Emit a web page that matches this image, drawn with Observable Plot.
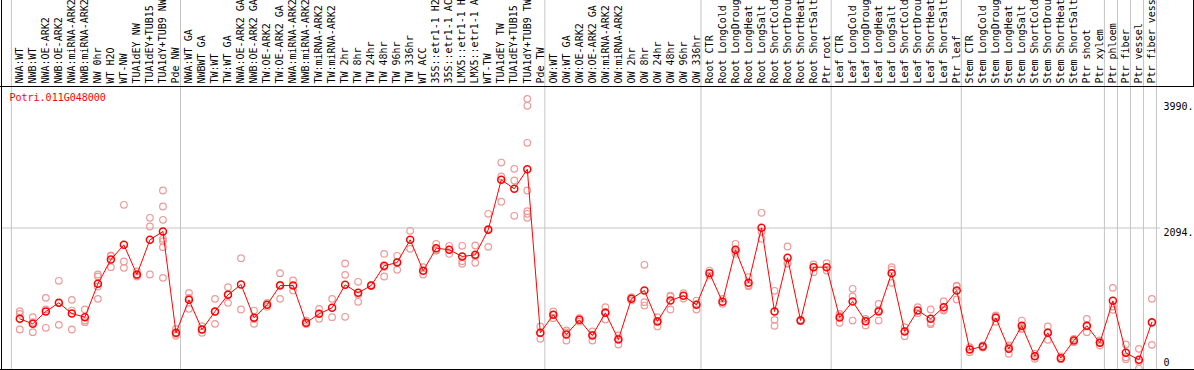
<!DOCTYPE html>
<html><head><meta charset="utf-8">
<script src="https://cdn.jsdelivr.net/npm/d3@7"></script>
<script src="https://cdn.jsdelivr.net/npm/@observablehq/plot@0.6"></script>
<style>html,body{margin:0;padding:0;background:#fff} svg{display:block}</style>
</head><body><div id="chart"></div>
<script>
const geneId = "Potri.011G048000";
const categories = [
 "NWA:WT","NWB:WT","NWA:OE-ARK2","NWB:OE-ARK2","NWA:miRNA-ARK2","NWB:miRNA-ARK2","NW 0hr","WT H2O","WT-NW","TUA1dEY NW",
 "TUA1dEY+TUB15 ","TUA1dY+TUB9 NW","Pde NW","NWA:WT GA","NWBWT GA","TW:WT","TW:WT GA","NWA:OE-ARK2 GA","NWB:OE-ARK2 GA","TW:OE-ARK2",
 "TW:OE-ARK2 GA","NWA:miRNA-ARK2","NWB:miRNA-ARK2","TW:miRNA-ARK2","TW:miRNA-ARK2","TW 2hr","TW 8hr","TW 24hr","TW 48hr","TW 96hr",
 "TW 336hr","WT ACC","35S::etr1-1 H2","35S::etr1-1 AC","LMX5::etr1-1 H","LMX5::etr1-1 A","WT-TW","TUA1dEY TW","TUA1dEY+TUB15 ","TUA1dY+TUB9 TW",
 "Pde TW","OW:WT","OW:WT GA","OW:OE-ARK2","OW:OE-ARK2 GA","OW:miRNA-ARK2","OW:miRNA-ARK2","OW 2hr","OW 8hr","OW 24hr",
 "OW 48hr","OW 96hr","OW 336hr","Root CTR","Root LongCold","Root LongDroug","Root LongHeat","Root LongSalt","Root ShortCold","Root ShortDrou",
 "Root ShortHeat","Root ShortSalt","Ptr root","Leaf CTR","Leaf LongCold","Leaf LongDroug","Leaf LongHeat","Leaf LongSalt","Leaf ShortCold","Leaf ShortDrou",
 "Leaf ShortHeat","Leaf ShortSalt","Ptr leaf","Stem CTR","Stem LongCold","Stem LongDroug","Stem LongHeat","Stem LongSalt","Stem ShortCold","Stem ShortDrou",
 "Stem ShortHeat","Stem ShortSalt","Ptr shoot","Ptr xylem","Ptr phloem","Ptr fiber","Ptr vessel","Ptr fiber vess"
];
const means = [
 750,676,859,987,829,775,1268,1628,1846,1406,
 1920,2043,543,1031,592,859,1105,1258,765,957,
 1243,1243,691,824,913,1253,1135,1243,1535,1584,
 1920,1461,1796,1772,1673,1698,2068,2808,2675,2965,
 543,810,518,735,503,839,444,1046,1170,711,
 1021,1091,957,1426,1002,1772,1283,2097,859,1653,
 725,1515,1515,770,1007,715,859,1426,563,873,
 750,923,1170,296,340,765,306,647,197,543,
 168,429,647,395,1016,247,143,701
];
const replicates = [
 [863,824,592],[775,700,553],[1061,888,617],[1313,987,661],[1031,873,592],[888,725,701],[1406,1377,1229,1046],[1678,1690,1515],[2438,1599,1505],[1451,1377,1390],
 [2246,2117,1406],[2650,2413,2216,1935,1899,1811,1357],[602,528,500],[1135,898,1060],[641,543,592],[1046,676,855],[1219,987,1110],[1648,888],[873,676,746],[987,930],
 [1426,1046,1257],[1318,1170],[725,676,672],[898,750],[1046,775],[1569,1401,780],[1298,1002,1105],[1250,1236],[1712,1377,1516],[1683,1476,1593],
 [2053,1787],[1515,1406],[1861,1762,1765],[1831,1712],[1831,1604,1565],[1836,1580,1678],[2305,1816,2083],[3064,2857,2483],[2971,2798,2275],[4007,3904,3356,2650,2344,2305,2246],
 [637,454,538],[859,760,811],[577,429,548],[760,710],[563,429,517],[923,740,854],[503,370,459],[1070,1022],[1550,997,947],[775,637,721],
 [1095,888,1080],[1130,1050],[1021,888,962],[1465,1390],[1046,972],[1861,1712,1743],[1367,1234,1248],[2320,2039,1935],[1165,735,647],[1821,1565,1573],
 [735,715],[1555,1441],[1574,1465],[824,691,795],[1195,1081,725],[750,652],[972,725,880],[1515,1283,1480],[627,493,570],[923,834],
 [888,691,671],[1012,873,884],[1234,1036,1240],[330,257,301],[355,325],[800,706,789],[355,232,331],[725,600,616],[232,158,201],[637,439,553],
 [193,158,153],[454,404],[750,553,638],[429,355,401],[1209,933,883],[370,182,153],[306,10,113],[1046,365,692]
];
const yTickValues = [0, 2094.75, 3990];
const yTickLabels = ["0", "2094.", "3990."];
const yMax = 4189.5;
const groupEnds = [-1, 12, 40, 52, 62, 72, 83, 84, 85, 86, 87];

const meanRows = categories.map((c, i) => ({i, c, v: means[i]}));
const repRows = replicates.flatMap((r, i) => r.map(v => ({i, v})));

const xDomain = [-1.4066, 87.66];
const chart = Plot.plot({
  width: 1194, height: 370,
  marginTop: 86, marginBottom: 1, marginLeft: 1, marginRight: 34,
  x: {type: "linear", domain: xDomain, axis: null},
  y: {domain: [0, yMax], axis: null},
  style: {fontFamily: "'DejaVu Sans Mono', monospace", fontSize: "10px", background: "white", overflow: "visible"},
  marks: [
    Plot.ruleX(groupEnds, {x: d => d + 0.35, stroke: "#c4c4c4", strokeWidth: 1, insetTop: -86}),
    Plot.ruleY([yTickValues[1]], {stroke: "#c4c4c4", strokeWidth: 1}),
    Plot.dot(repRows, {x: "i", y: "v", r: 3.3, stroke: "#ee9a9a", strokeWidth: 1.2, fill: "none"}),
    Plot.line(meanRows, {x: "i", y: "v", stroke: "red", strokeWidth: 1}),
    Plot.dot(meanRows, {x: "i", y: "v", r: 3.5, stroke: "red", strokeWidth: 1.5, fill: "none"}),
    Plot.ruleY([0], {stroke: "black", insetLeft: -1, insetRight: -34}),
    Plot.ruleY([yMax], {stroke: "black", insetLeft: -1, insetRight: -34}),
    Plot.ruleX([xDomain[0]], {stroke: "black", insetTop: -86}),
    Plot.ruleX([90.2], {stroke: "black", insetTop: -86, insetBottom: 283}),
    Plot.text(meanRows, {x: "i", text: "c", frameAnchor: "top", rotate: -90, textAnchor: "start", lineAnchor: "middle", dy: -3, fill: "black"}),
    Plot.text([geneId], {frameAnchor: "top-left", dx: 8, dy: 11, textAnchor: "start", lineAnchor: "middle", fill: "red"}),
    Plot.text([2], {frameAnchor: "right", y: d => yTickValues[d], text: d => yTickLabels[d], dx: 3, dy: 3, textAnchor: "start", lineAnchor: "top", fill: "black"}),
    Plot.text([1], {frameAnchor: "right", y: d => yTickValues[d], text: d => yTickLabels[d], dx: 3, dy: 1, textAnchor: "start", lineAnchor: "top", fill: "black"}),
    Plot.text([0], {frameAnchor: "right", y: d => yTickValues[d], text: d => yTickLabels[d], dx: 3, dy: -4, textAnchor: "start", lineAnchor: "bottom", fill: "black"})
  ]
});
document.getElementById("chart").appendChild(chart);
</script>
</body></html>
